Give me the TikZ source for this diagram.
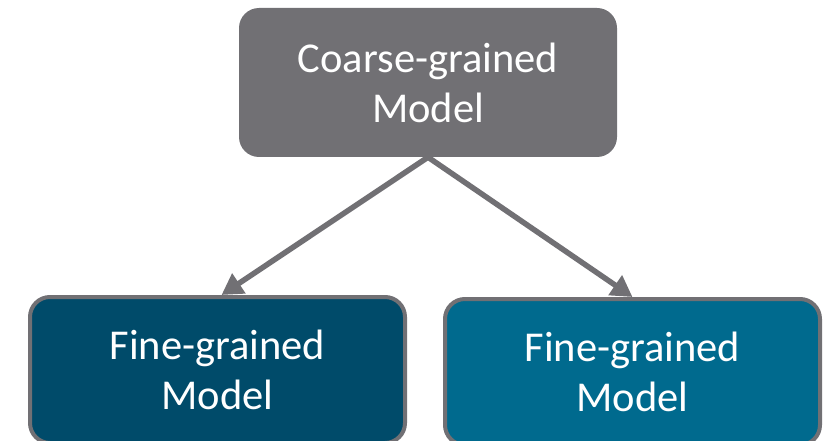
\documentclass[tikz,border=0pt]{standalone}
\usepackage{fontspec}
\setmainfont{Carlito}
\usetikzlibrary{arrows.meta}
\definecolor{cggray}{HTML}{717074}
\definecolor{fgdark}{HTML}{004B6A}
\definecolor{fgblue}{HTML}{006A8E}

\tikzset{
    modelbox/.style={rectangle, rounded corners=20pt, inner sep=0pt,
        minimum width=375pt, minimum height=146pt, align=center,
        text=white, font=\fontsize{42.5}{50}\selectfont},
    finebox/.style={modelbox, draw=cggray, line width=4pt},
    refine/.style={-{Triangle[length=21pt,width=23pt]}, draw=cggray, line width=5.5pt}
}

\begin{document}
\begin{tikzpicture}[x=1pt, y=-1pt]
    \useasboundingbox (0,0) rectangle (828,441);

    % boxes
    \node[modelbox, fill=cggray, minimum width=378pt, minimum height=149pt]
        (coarse) at (428,82.5) {Coarse-grained\\Model};
    \node[finebox, fill=fgdark] (fineL) at (217.5,370) {Fine-grained\\Model};
    \node[finebox, fill=fgblue] (fineR) at (632.5,372) {Fine-grained\\Model};

    % arrows
    \draw[refine] (coarse.south) -- ([xshift=4pt]fineL.north);
    \draw[refine] (coarse.south) -- (fineR.north);
\end{tikzpicture}
\end{document}
